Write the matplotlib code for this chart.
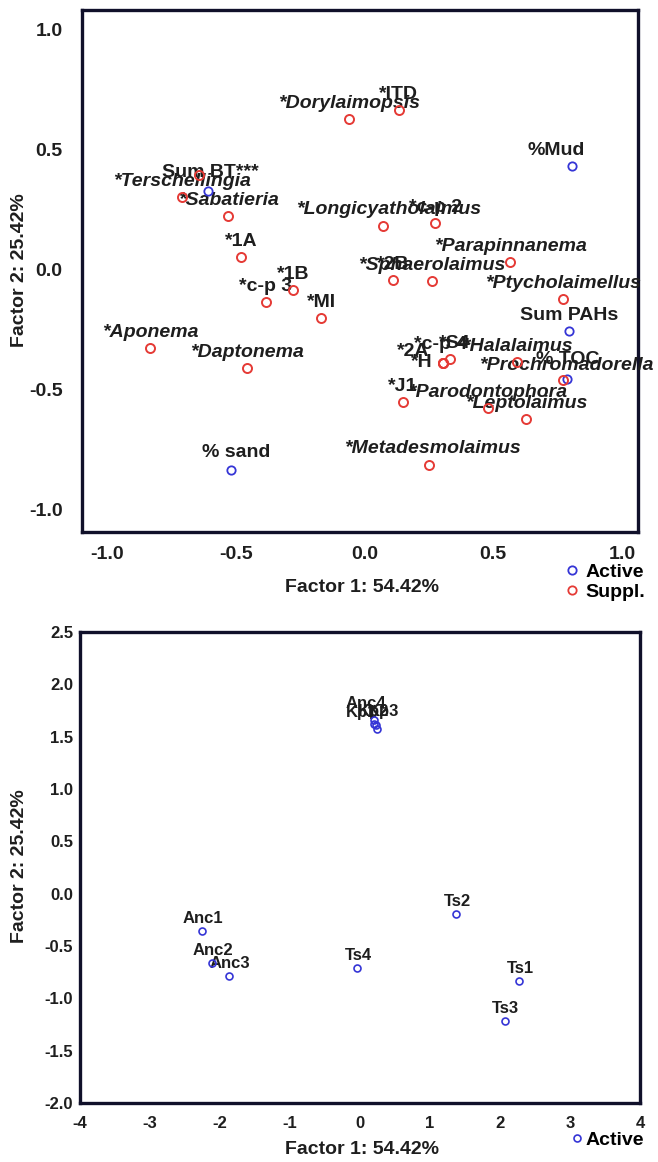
import matplotlib
matplotlib.use("Agg")
import matplotlib.pyplot as plt
from matplotlib.lines import Line2D

plt.rcParams['font.family'] = ['Liberation Sans', 'DejaVu Sans']
plt.rcParams['font.weight'] = 'bold'
plt.rcParams['axes.unicode_minus'] = False

# ---- top panel: variables ----
act_names = ["%Mud", "Sum BT***", "Sum PAHs", "% TOC", "% sand"]
act_x = [0.805, -0.606, 0.795, 0.788, -0.518]
act_y = [0.435, 0.329, -0.254, -0.454, -0.833]

sup_names = ["*ITD", "*Dorylaimopsis", "", "*Terschellingia", "*Sabatieria",
             "*Longicyatholaimus", "*c-p 2", "*1A", "*Parapinnanema", "*2B",
             "*Sphaerolaimus", "*1B", "*c-p 3", "*Ptycholaimellus", "*MI",
             "*Aponema", "*Daptonema", "*c-p 4", "*S4", "*2A", "*H",
             "*Halalaimus", "*Prochromadorella", "*J1", "*Parodontophora",
             "*Leptolaimus", "*Metadesmolaimus"]
sup_x = [0.132, -0.060, -0.643, -0.710, -0.529, 0.070, 0.275, -0.478, 0.566,
         0.110, 0.262, -0.278, -0.384, 0.770, -0.168, -0.833, -0.457, 0.306,
         0.332, 0.306, 0.306, 0.594, 0.770, 0.148, 0.480, 0.627, 0.250]
sup_y = [0.667, 0.629, 0.397, 0.305, 0.225, 0.183, 0.195, 0.055, 0.035,
         -0.042, -0.046, -0.083, -0.132, -0.121, -0.201, -0.324, -0.410,
         -0.386, -0.371, -0.386, -0.386, -0.385, -0.458, -0.550, -0.574,
         -0.620, -0.8125]
genus = {"*Dorylaimopsis", "*Terschellingia", "*Sabatieria", "*Longicyatholaimus",
         "*Parapinnanema", "*Sphaerolaimus", "*Ptycholaimellus", "*Aponema",
         "*Daptonema", "*Halalaimus", "*Prochromadorella", "*Parodontophora",
         "*Leptolaimus", "*Metadesmolaimus"}

# ---- bottom panel: cases ----
case_names = ["Anc4", "Kp1", "Kp2", "Kp3", "Anc1", "Anc2", "Anc3",
              "Ts4", "Ts2", "Ts1", "Ts3"]
case_x = [0.200, 0.200, 0.229, 0.243, -2.261, -2.119, -1.871,
          -0.043, 1.371, 2.271, 2.067]
case_y = [1.660, 1.620, 1.607, 1.578, -0.353, -0.666, -0.787,
          -0.711, -0.196, -0.838, -1.212]

# label nudges in pixels (default: centred above point)
nudge = {"%Mud": (-16, 15), "Sum BT***": (2, 18), "% sand": (5, 17), "% TOC": (0, 19),
         "*Longicyatholaimus": (6, 16), "*2A": (-30, 11), "*H": (-22, 0),
         "*c-p 4": (-3, 18), "*S4": (5, 15), "*Prochromadorella": (4, 14),
         "*Metadesmolaimus": (4, 16),
         "Anc4": (-8, 16), "Kp1": (-12, 12), "Kp2": (-2, 14), "Kp3": (7, 17)}

RED = "#e53a35"
BLUE = "#3535d6"
FRAME = "#10102a"
TXT = "#1e1e1e"

W, H = 658, 1162
fig = plt.figure(figsize=(W / 100, H / 100), dpi=100)

def frame(ax):
    for s in ax.spines.values():
        s.set_linewidth(2.4)
        s.set_color(FRAME)
    ax.tick_params(length=0, colors=TXT)

# top axes
ax1 = fig.add_axes([82 / W, 1 - 532 / H, 556 / W, 522 / H])
ax1.set_xlim(-1.097, 1.062)
ax1.set_ylim(-1.092, 1.083)
ax1.set_xticks([-1.0, -0.5, 0.0, 0.5, 1.0])
ax1.set_yticks([-1.0, -0.5, 0.0, 0.5, 1.0])
ax1.set_xticklabels(["%.1f" % v for v in ax1.get_xticks()])
ax1.set_yticklabels(["%.1f" % v for v in ax1.get_yticks()])
frame(ax1)
ax1.tick_params(axis='x', pad=10, labelsize=14)
ax1.tick_params(axis='y', pad=14, labelsize=14)

ax1.plot(act_x, act_y, 'o', ms=6, mfc='none', mec=BLUE, mew=1.3, zorder=5)
ax1.plot(sup_x, sup_y, 'o', ms=6.5, mfc='none', mec=RED, mew=1.4, zorder=5)
for n, x, y in list(zip(act_names, act_x, act_y)) + list(zip(sup_names, sup_x, sup_y)):
    if not n:
        continue
    dx, dy = nudge.get(n, (0, 15.5))
    ax1.annotate(n, (x, y), xytext=(dx, dy), textcoords='offset pixels',
                 ha='center', va='center', fontsize=14, color=TXT,
                 style='italic' if n in genus else 'normal', zorder=3)

# bottom axes
ax2 = fig.add_axes([80 / W, 1 - 1103 / H, 560 / W, 471 / H])
ax2.set_xlim(-4, 4)
ax2.set_ylim(-2.0, 2.5)
ax2.set_xticks(range(-4, 5))
ax2.set_yticks([-2.0, -1.5, -1.0, -0.5, 0.0, 0.5, 1.0, 1.5, 2.0, 2.5])
ax2.set_yticklabels(["%.1f" % v for v in ax2.get_yticks()])
frame(ax2)
ax2.tick_params(axis='x', pad=9, labelsize=12)
ax2.tick_params(axis='y', pad=5, labelsize=12)
ax2.plot(case_x, case_y, 'o', ms=5, mfc='none', mec=BLUE, mew=1.2, zorder=5)
for n, x, y in zip(case_names, case_x, case_y):
    dx, dy = nudge.get(n, (1, 12.5))
    ax2.annotate(n, (x, y), xytext=(dx, dy), textcoords='offset pixels',
                 ha='center', va='center', fontsize=12, color=TXT, zorder=3)

# axis titles
fig.text(362 / W, 1 - 587 / H, "Factor 1: 54.42%", ha='center', va='center',
         fontsize=14, color=TXT)
fig.text(20 / W, 1 - 270 / H, "Factor 2: 25.42%", ha='center', va='center',
         rotation=90, fontsize=14, color=TXT)
fig.text(362 / W, 1 - 1149 / H, "Factor 1: 54.42%", ha='center', va='center',
         fontsize=14, color=TXT)
fig.text(20 / W, 1 - 866 / H, "Factor 2: 25.42%", ha='center', va='center',
         rotation=90, fontsize=14, color=TXT)

# legends
h_act = Line2D([], [], ls='none', marker='o', ms=6, mfc='none', mec=BLUE, mew=1.3)
h_sup = Line2D([], [], ls='none', marker='o', ms=6, mfc='none', mec=RED, mew=1.3)
fig.legend([h_act, h_sup], ["Active", "Suppl."], loc='upper right',
           bbox_to_anchor=(645 / W, 1 - 563 / H), frameon=False, fontsize=14,
           handlelength=0.7, handletextpad=0.35, labelspacing=0.15, borderpad=0,
           borderaxespad=0)
h_act2 = Line2D([], [], ls='none', marker='o', ms=5, mfc='none', mec=BLUE, mew=1.2)
fig.legend([h_act2], ["Active"], loc='upper right',
           bbox_to_anchor=(644 / W, 1 - 1131 / H), frameon=False, fontsize=14,
           handlelength=0.5, handletextpad=0.2, borderpad=0, borderaxespad=0)

fig.savefig("out.png", dpi=100, facecolor='white')
